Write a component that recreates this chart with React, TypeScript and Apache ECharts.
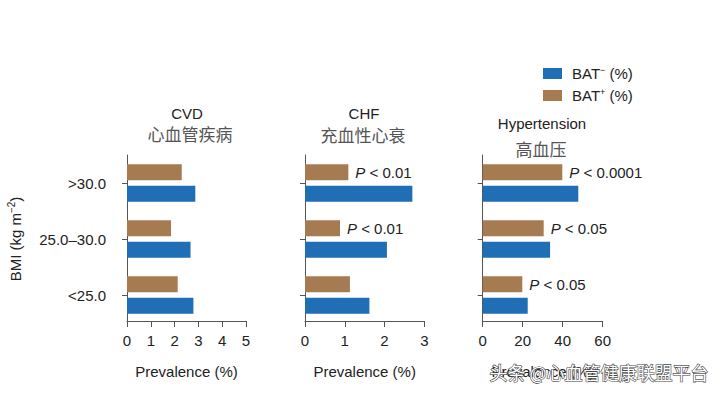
import React, { useEffect, useRef } from "react";
import * as echarts from "echarts";

// Categories bottom to top
const bmiCategories = ["<25.0", "25.0–30.0", ">30.0"];

const cvdBatNeg = [2.79, 2.67, 2.87];
const cvdBatPos = [2.13, 1.85, 2.3];
const chfBatNeg = [1.62, 2.06, 2.7];
const chfBatPos = [1.13, 0.88, 1.09];
const htnBatNeg = [22.5, 33.7, 47.8];
const htnBatPos = [19.8, 30.5, 39.8];

const cvdP = ["", "", ""];
const chfP = ["", "P < 0.01", "P < 0.01"];
const htnP = ["P < 0.05", "P < 0.05", "P < 0.0001"];

const xMax = [5, 3, 60];
const xInterval = [1, 1, 20];

const panelTitles = ["CVD", "CHF", "Hypertension"];
const panelTitlesZh = ["心血管疾病", "充血性心衰", "高血压"];

const NEG = "BAT⁻ (%)";
const POS = "BAT⁺ (%)";
const BLUE = "#1f6eb6";
const BROWN = "#a67b52";
const FONT = "'Liberation Sans', Arial, Helvetica, sans-serif";
const ZH = "'Noto Sans CJK SC', sans-serif";
const AXIS = "#555";

export default function App() {
  const ref = useRef<HTMLDivElement>(null);
  useEffect(() => {
    if (!ref.current) return;
    const chart = echarts.init(ref.current, undefined, { renderer: "svg" });
    const grids = [
      { left: 127, width: 119, top: 155, height: 168 },
      { left: 305, width: 119.3, top: 155, height: 168 },
      { left: 482.7, width: 120, top: 155, height: 168 },
    ];
    const negData = [cvdBatNeg, chfBatNeg, htnBatNeg];
    const posData = [cvdBatPos, chfBatPos, htnBatPos];
    const pData = [cvdP, chfP, htnP];

    const xAxes = grids.map((_, i) => ({
      type: "value",
      gridIndex: i,
      min: 0,
      max: xMax[i],
      interval: xInterval[i],
      offset: -2,
      splitLine: { show: false },
      axisLine: { show: true, lineStyle: { color: AXIS, width: 1 } },
      axisTick: { show: true, length: 6, lineStyle: { color: AXIS } },
      axisLabel: { fontSize: 15, color: "#222", margin: 12, fontFamily: FONT },
      name: "Prevalence (%)",
      nameLocation: "middle",
      nameGap: 43,
      nameTextStyle: { fontSize: 15, color: "#222", fontFamily: FONT },
    }));

    const yAxes = grids.map((_, i) => ({
      type: "category",
      gridIndex: i,
      data: bmiCategories,
      axisLine: { show: true, lineStyle: { color: AXIS, width: 1 } },
      axisTick: { show: true, alignWithLabel: true, length: 5, lineStyle: { color: AXIS } },
      axisLabel: {
        show: i === 0,
        fontSize: 15,
        color: "#222",
        margin: 21,
        fontFamily: FONT,
      },
      name: i === 0 ? "BMI (kg m{sup|−2})" : "",
      nameLocation: "middle",
      nameGap: 103,
      nameTextStyle: {
        fontSize: 15,
        color: "#222",
        fontFamily: FONT,
        rich: {
          sup: { fontSize: 10, verticalAlign: "top", fontFamily: FONT, color: "#222", padding: [0, 0, 8, 0] },
        },
      },
    }));

    const series: any[] = [];
    grids.forEach((_, i) => {
      const ps = pData[i];
      series.push({
        type: "bar",
        name: POS,
        xAxisIndex: i,
        yAxisIndex: i,
        data: posData[i],
        barWidth: 16,
        barGap: "35%",
        itemStyle: { color: BROWN },
        label: {
          show: true,
          position: "right",
          distance: 7,
          fontSize: 15,
          color: "#222",
          fontFamily: FONT,
          formatter: (p: any) => {
            const s = ps[p.dataIndex];
            if (!s) return "";
            return "{i|P}" + s.slice(1);
          },
          rich: { i: { fontStyle: "italic", fontSize: 15, color: "#222", fontFamily: FONT } },
        },
      });
      series.push({
        type: "bar",
        name: NEG,
        xAxisIndex: i,
        yAxisIndex: i,
        data: negData[i],
        barWidth: 16,
        barGap: "35%",
        itemStyle: { color: BLUE },
      });
    });

    const titleX = [187, 364, 542];
    const titleY = [113, 113, 123];
    const zhX = [190, 363, 541];
    const zhY = [133, 134, 148];
    const graphics: any[] = [];
    panelTitles.forEach((t, i) => {
      graphics.push({
        type: "text",
        x: titleX[i],
        y: titleY[i],
        style: { text: t, fontSize: 15, fill: "#222", fontFamily: FONT, align: "center", verticalAlign: "middle" },
      });
      graphics.push({
        type: "text",
        x: zhX[i],
        y: zhY[i],
        style: { text: panelTitlesZh[i], fontSize: 17, fill: "#555", fontFamily: ZH, align: "center", verticalAlign: "middle" },
      });
    });
    graphics.push({
      type: "text",
      x: 599,
      y: 372,
      z: 100,
      style: {
        text: "头条 @心血管健康联盟平台",
        fontSize: 18,
        fill: "#ffffff",
        stroke: "#444",
        lineWidth: 1.2,
        fontFamily: ZH,
        align: "center",
        verticalAlign: "middle",
      },
    });

    chart.setOption({
      animation: false,
      backgroundColor: "#fff",
      grid: grids,
      xAxis: xAxes,
      yAxis: yAxes,
      legend: {
        orient: "vertical",
        left: 543,
        top: 65,
        padding: 0,
        itemWidth: 19,
        itemHeight: 11,
        itemGap: 6,
        icon: "rect",
        data: [NEG, POS],
        formatter: (name: string) => (name === NEG ? "BAT{sup|−} (%)" : "BAT{sup|+} (%)"),
        textStyle: {
          fontSize: 15,
          color: "#222",
          fontFamily: FONT,
          padding: [0, 0, 0, 5],
          rich: {
            sup: { fontSize: 9, verticalAlign: "top", color: "#222", fontFamily: FONT, padding: [0, 0, 8, 0] },
          },
        },
      },
      series,
      graphic: graphics,
    });
    return () => chart.dispose();
  }, []);
  return (
    <div
      ref={ref}
      style={{ position: "fixed", left: 0, top: 0, width: 725, height: 396, background: "#fff" }}
    />
  );
}
